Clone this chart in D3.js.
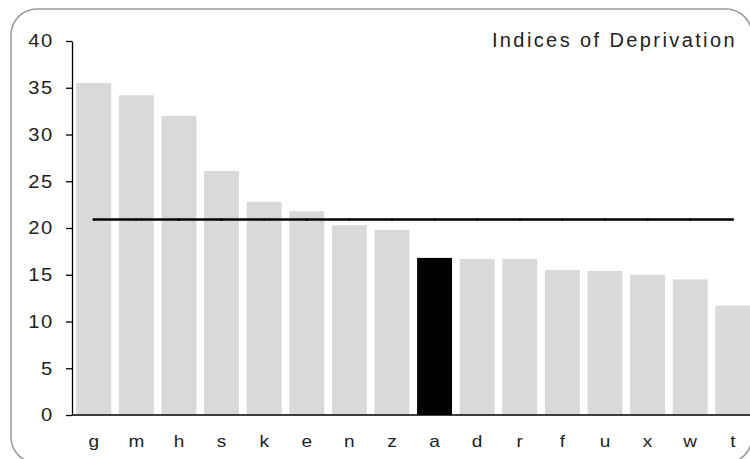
<!DOCTYPE html>
<html>
<head>
<meta charset="utf-8">
<script src="https://cdn.jsdelivr.net/npm/d3@7"></script>
<style>
    body { margin: 0; background: #fff; }
    svg text { font-family: "Liberation Sans", Arial, sans-serif; fill: #222; }
</style>
</head>
<body>
<div id="chart"></div>
<script>
(function () {
    var categories = ["g", "m", "h", "s", "k", "e", "n", "z", "a", "d", "r", "f", "u", "x", "w", "t"];
    var values = [35.5, 34.2, 32.0, 26.1, 22.8, 21.8, 20.3, 19.8, 16.8, 16.7, 16.7, 15.5, 15.4, 15.0, 14.5, 11.7];
    var average = 20.9;
    var highlight = "a";
    var yTicks = [0, 5, 10, 15, 20, 25, 30, 35, 40];
    var title = "Indices of Deprivation";

    var width = 750, height = 459;
    var margin = {top: 41, left: 72, bottom: 44};

    var svg = d3.select("#chart")
        .append("svg")
        .attr("width", width)
        .attr("height", height);

    // the original text is drawn wide, so stretch glyphs a bit
    function widen(sel, k) {
        sel.each(function () {
            var w = this.getComputedTextLength();
            d3.select(this)
                .attr("textLength", w * k)
                .attr("lengthAdjust", "spacingAndGlyphs");
        });
    }

    // rounded frame, runs off the right/bottom edge
    svg.append("rect")
        .attr("x", 11).attr("y", 9)
        .attr("width", 741).attr("height", 454)
        .attr("rx", 26).attr("ry", 26)
        .attr("fill", "none")
        .attr("stroke", "#999")
        .attr("stroke-width", 1.5);

    var x = d3.scaleBand()
        .domain(categories)
        .range([margin.left, 754.5])
        .paddingInner(0.18)
        .paddingOuter(0.1);

    var y = d3.scaleLinear()
        .domain([0, 40])
        .range([height - margin.bottom, margin.top]);

    svg.selectAll("rect.bar")
        .data(values)
        .enter()
        .append("rect")
        .attr("class", "bar")
        .attr("x", function (d, i) { return x(categories[i]); })
        .attr("y", function (d) { return y(d); })
        .attr("width", x.bandwidth())
        .attr("height", function (d) { return y(0) - y(d); })
        .attr("fill", function (d, i) { return categories[i] == highlight ? "#000" : "#d9d9d9"; });

    // y axis
    var yAxis = svg.append("g")
        .attr("transform", "translate(" + margin.left + ",0)")
        .call(d3.axisLeft(y).tickValues(yTicks).tickSize(6).tickPadding(12).tickSizeOuter(0));
    yAxis.selectAll("text")
        .style("font-size", "18px")
        .style("letter-spacing", "1.5px");
    widen(yAxis.selectAll("text"), 1.12);
    yAxis.selectAll("line, path").attr("stroke", "#000").attr("stroke-width", 1.3);

    // x axis
    var xAxis = svg.append("g")
        .attr("transform", "translate(0," + y(0) + ")")
        .call(d3.axisBottom(x).tickSize(0).tickPadding(20).tickSizeOuter(0));
    xAxis.select("path.domain")
        .attr("d", "M" + margin.left + ",0H" + width)
        .attr("stroke", "#000").attr("stroke-width", 1.3);
    xAxis.selectAll("text").style("font-size", "17px");
    widen(xAxis.selectAll("text"), 1.12);

    // average line
    var line = d3.line()
        .x(function (d) { return x(d) + x.bandwidth() / 2; })
        .y(function () { return y(average); });

    svg.append("path")
        .attr("d", line(categories))
        .attr("stroke", "#000")
        .attr("stroke-width", 2.5)
        .attr("fill", "none");

    svg.selectAll("circle.pt")
        .data(categories)
        .enter()
        .append("circle")
        .attr("class", "pt")
        .attr("cx", function (d) { return x(d) + x.bandwidth() / 2; })
        .attr("cy", y(average))
        .attr("r", 1.3)
        .attr("fill", "#000");

    svg.append("text")
        .attr("x", 737)
        .attr("y", 47)
        .attr("text-anchor", "end")
        .style("font-size", "20px")
        .style("letter-spacing", "2.4px")
        .text(title);
})();
</script>
</body>
</html>
